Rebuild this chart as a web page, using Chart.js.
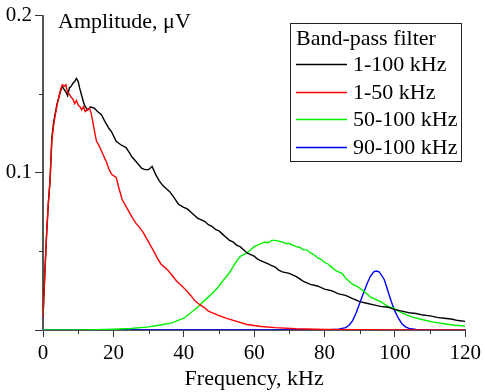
<!DOCTYPE html>
<html>
<head>
<meta charset="utf-8">
<script src="https://cdn.jsdelivr.net/npm/chart.js@4.4.1/dist/chart.umd.min.js"></script>
<style>
  html, body { margin: 0; padding: 0; background: #fff; }
  #wrap { width: 485px; height: 392px; position: relative; }
</style>
</head>
<body>
<div id="wrap"><canvas id="chart"></canvas></div>
<script>
// Band-pass filter 1-100 kHz (black)
const freqBlack = [0, 0.5, 1, 1.5, 2, 2.5, 3, 3.5, 4, 4.5, 5, 5.5, 6, 6.6, 7, 7.5, 8, 8.5, 9, 9.5, 10, 10.4, 11, 11.5, 12, 12.7, 13.5, 14.6, 15.5, 16.6, 17.5, 18.8, 19.5, 20.8, 22, 23.6, 24.5, 25.3, 26.5, 28, 29, 30, 31, 32, 33, 34, 35, 36, 37, 38.5, 40, 41, 42, 43, 44, 45, 46, 47, 48, 49, 50, 51, 52, 53, 54, 55, 56, 57, 58, 59, 60, 61, 62, 63, 64, 65, 66, 67, 68, 70, 72, 74, 76, 78, 80, 82, 84, 86, 88, 90, 92, 94, 96, 98, 100, 102, 104, 106, 108, 110, 112, 114, 116, 118, 120];
const ampBlack = [0.008, 0.035, 0.060, 0.080, 0.095, 0.122, 0.132, 0.138, 0.144, 0.148, 0.152, 0.155, 0.153, 0.151, 0.149, 0.154, 0.155, 0.157, 0.158, 0.160, 0.158, 0.154, 0.149, 0.145, 0.142, 0.140, 0.142, 0.141, 0.139, 0.137, 0.133, 0.128, 0.126, 0.120, 0.118, 0.116, 0.113, 0.110, 0.107, 0.103, 0.102, 0.102, 0.104, 0.099, 0.095, 0.092, 0.090, 0.088, 0.085, 0.080, 0.078, 0.077, 0.075, 0.073, 0.071, 0.070, 0.069, 0.067, 0.066, 0.064, 0.063, 0.061, 0.059, 0.057, 0.056, 0.054, 0.053, 0.051, 0.049, 0.048, 0.047, 0.045, 0.044, 0.043, 0.042, 0.041, 0.040, 0.038, 0.037, 0.036, 0.034, 0.031, 0.029, 0.028, 0.026, 0.025, 0.023, 0.022, 0.020, 0.018, 0.017, 0.016, 0.015, 0.0145, 0.013, 0.012, 0.011, 0.0105, 0.0095, 0.009, 0.008, 0.0075, 0.007, 0.006, 0.0055];

// Band-pass filter 1-50 kHz (red)
const freqRed = [0, 0.5, 1, 1.5, 2, 2.5, 3, 3.5, 4, 4.5, 5, 5.5, 6, 6.5, 7, 7.5, 8, 8.5, 9, 9.5, 10, 10.5, 11, 11.5, 12, 12.5, 13.2, 13.7, 14.1, 14.6, 15.2, 16, 17, 18, 18.8, 19.5, 20.8, 21.6, 22.5, 23.5, 24.5, 25.5, 26.4, 27.5, 28.5, 29.5, 30.5, 31.5, 32.4, 33.5, 34.5, 35.5, 36.6, 38, 39, 40.4, 42, 43, 44, 45, 46, 47, 48, 49.7, 52, 55, 58, 62, 66, 72, 80, 90, 100, 120];
const ampRed = [0.008, 0.035, 0.060, 0.080, 0.095, 0.120, 0.130, 0.137, 0.143, 0.148, 0.153, 0.156, 0.155, 0.156, 0.151, 0.150, 0.148, 0.147, 0.144, 0.146, 0.143, 0.142, 0.140, 0.142, 0.139, 0.140, 0.141, 0.138, 0.133, 0.127, 0.120, 0.117, 0.112, 0.107, 0.102, 0.099, 0.097, 0.090, 0.083, 0.079, 0.075, 0.071, 0.068, 0.065, 0.062, 0.058, 0.054, 0.050, 0.046, 0.042, 0.040, 0.038, 0.035, 0.031, 0.029, 0.026, 0.022, 0.019, 0.017, 0.0155, 0.014, 0.012, 0.011, 0.0095, 0.0075, 0.0055, 0.0035, 0.0022, 0.0015, 0.0008, 0.0004, 0.0002, 0.0001, 0];

// Band-pass filter 50-100 kHz (green)
const freqGreen = [0, 10, 15, 20, 25, 30, 33, 36.6, 40, 42, 44, 46, 48, 49.7, 51, 52.5, 53.4, 54.5, 55.4, 56.2, 57, 58, 59, 60, 61, 62, 63, 64, 65, 66, 67, 68, 69, 70, 71, 72, 73, 74, 75, 76, 77, 78, 79, 80, 81, 82, 83, 84, 85, 86, 87, 88, 89, 90, 91, 92, 93, 94, 95, 96, 97, 98, 99.5, 101, 103, 105, 108, 111, 114, 117, 120];
const ampGreen = [0, 0, 0.0002, 0.0005, 0.001, 0.002, 0.003, 0.0045, 0.0075, 0.011, 0.0146, 0.019, 0.023, 0.027, 0.031, 0.035, 0.038, 0.042, 0.045, 0.047, 0.048, 0.049, 0.051, 0.053, 0.054, 0.055, 0.056, 0.0555, 0.057, 0.057, 0.0565, 0.056, 0.055, 0.055, 0.054, 0.053, 0.0525, 0.051, 0.051, 0.049, 0.048, 0.046, 0.045, 0.043, 0.042, 0.040, 0.038, 0.037, 0.036, 0.033, 0.031, 0.029, 0.028, 0.0266, 0.025, 0.023, 0.021, 0.020, 0.019, 0.018, 0.0165, 0.015, 0.014, 0.012, 0.010, 0.0082, 0.0065, 0.005, 0.004, 0.003, 0.0025];

// Band-pass filter 90-100 kHz (blue)
const freqBlue = [0, 80, 84, 86, 87, 88, 89, 90, 91, 92, 93, 94, 94.7, 95.5, 96, 97, 98, 99, 100, 101, 102, 103, 104, 106, 110, 120];
const ampBlue = [0, 0, 0.0005, 0.0015, 0.003, 0.006, 0.011, 0.017, 0.023, 0.029, 0.034, 0.037, 0.0375, 0.037, 0.0355, 0.032, 0.025, 0.018, 0.012, 0.0075, 0.004, 0.002, 0.001, 0.0003, 0, 0];

const seriesLabels = ['1-100 kHz', '1-50 kHz', '50-100 kHz', '90-100 kHz'];
const seriesColors = ['#000000', '#ff0000', '#00f000', '#0000ff'];
const xMinorTicks = [10, 30, 50, 70, 90, 110];
const yMinorTicks = [0.05, 0.15];

const FONT = '"Liberation Serif", "Times New Roman", serif';

function toPoints(xs, ys) {
    return xs.map((x, i) => ({ x: x, y: ys[i] }));
}

// Minor tick marks on both axes
const minorTicks = {
    id: 'minorTicks',
    afterDraw(chart) {
        const { ctx, scales: { x, y } } = chart;
        ctx.save();
        ctx.strokeStyle = '#333';
        ctx.lineWidth = 1;
        ctx.beginPath();
        xMinorTicks.forEach(v => {
            const px = Math.round(x.getPixelForValue(v)) + 0.5;
            ctx.moveTo(px, y.bottom);
            ctx.lineTo(px, y.bottom + 4);
        });
        yMinorTicks.forEach(v => {
            const py = Math.round(y.getPixelForValue(v)) + 0.5;
            ctx.moveTo(x.left, py);
            ctx.lineTo(x.left - 4, py);
        });
        ctx.stroke();
        ctx.restore();
    }
};

// "Amplitude" title and the boxed legend inside the plot
const annotations = {
    id: 'annotations',
    afterDraw(chart) {
        const { ctx } = chart;
        ctx.save();
        ctx.fillStyle = '#000';
        ctx.font = '22px ' + FONT;
        ctx.textBaseline = 'alphabetic';
        ctx.fillText('Amplitude, \u03bcV', 58, 28);

        // legend box
        ctx.fillStyle = '#fff';
        ctx.fillRect(290, 23, 171, 138);
        ctx.strokeStyle = '#222';
        ctx.lineWidth = 1;
        ctx.strokeRect(290.5, 23.5, 171, 138);
        ctx.fillStyle = '#000';
        ctx.fillText('Band-pass filter', 296, 45);
        const rowY = [64, 92, 119, 147];
        chart.data.datasets.forEach((ds, i) => {
            ctx.strokeStyle = ds.borderColor;
            ctx.lineWidth = 1.5;
            ctx.beginPath();
            ctx.moveTo(296, rowY[i] + 0.5);
            ctx.lineTo(347, rowY[i] + 0.5);
            ctx.stroke();
            ctx.fillStyle = '#000';
            ctx.textBaseline = 'middle';
            ctx.fillText(ds.label, 353, rowY[i] + 1);
        });
        ctx.restore();
    }
};

const allSeries = [
    toPoints(freqBlack, ampBlack),
    toPoints(freqRed, ampRed),
    toPoints(freqGreen, ampGreen),
    toPoints(freqBlue, ampBlue)
];
const drawOrder = [1, 0, 2, 3];

new Chart(document.getElementById('chart'), {
    type: 'line',
    data: {
        datasets: allSeries.map((pts, i) => ({
            label: seriesLabels[i],
            data: pts,
            borderColor: seriesColors[i],
            borderWidth: 1.4,
            pointRadius: 0,
            tension: 0,
            fill: false,
            order: drawOrder[i]
        }))
    },
    options: {
        responsive: true,
        maintainAspectRatio: false,
        animation: false,
        layout: { padding: { top: 14, right: 15, left: 0, bottom: 0 } },
        plugins: {
            legend: { display: false },
            tooltip: { enabled: false }
        },
        scales: {
            x: {
                type: 'linear',
                min: 0,
                max: 120,
                border: { color: '#555', width: 2 },
                grid: { drawOnChartArea: false, tickLength: 7, tickColor: '#333' },
                ticks: {
                    stepSize: 20,
                    color: '#000',
                    padding: 4,
                    maxRotation: 0,
                    font: { family: FONT, size: 21 }
                },
                title: {
                    display: true,
                    text: 'Frequency, kHz',
                    color: '#000',
                    padding: { top: 0, bottom: 0 },
                    font: { family: FONT, size: 22 }
                },
                afterFit(scale) { scale.height = 62; }
            },
            y: {
                min: 0,
                max: 0.2,
                border: { color: '#555', width: 2 },
                grid: { drawOnChartArea: false, tickLength: 8, tickColor: '#333' },
                ticks: {
                    stepSize: 0.1,
                    color: '#000',
                    padding: 3,
                    font: { family: FONT, size: 21 },
                    callback: v => (v === 0 ? '' : v.toFixed(1))
                },
                afterFit(scale) { scale.width = 43; }
            }
        }
    },
    plugins: [minorTicks, annotations]
});
</script>
</body>
</html>
